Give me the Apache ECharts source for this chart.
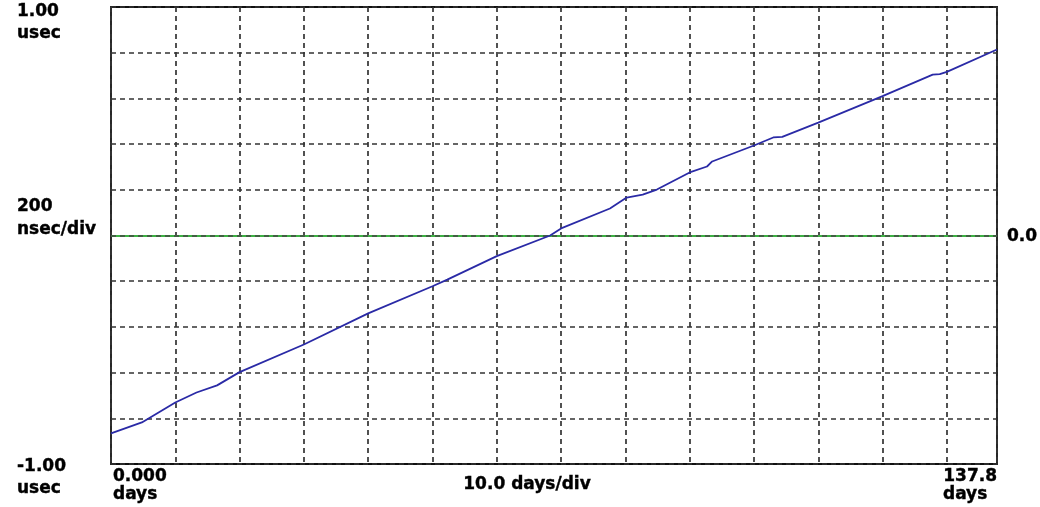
<!DOCTYPE html>
<html>
<head>
<meta charset="utf-8">
<script src="https://cdn.jsdelivr.net/npm/echarts@6/dist/echarts.min.js"></script>
<style>
html,body{margin:0;padding:0;background:#fff;}
#chart{width:1040px;height:507px;}
</style>
</head>
<body>
<div id="chart"></div>
<script>
// Data (days, nsec)
const days = [0, 4.8, 10, 13.3, 16.5, 20, 30, 40, 50, 52.3, 60, 68.3, 70, 77.6, 80.2, 82.7, 84.9, 90, 92.7, 93.5, 100, 103.0, 104.4, 110, 120, 127.8, 128.9, 130, 137.8];
const offsetNs = [-866, -818, -731, -687, -656, -598, -477, -341, -222, -193, -90, 0, 31, 118, 166, 179, 201, 276, 302, 324, 394, 429, 432, 494, 610, 704, 706, 716, 814];
const yTopLabel = ['1.00', 'usec'];
const yMidLabel = ['200', 'nsec/div'];
const yBottomLabel = ['-1.00', 'usec'];
const xLeftLabel = ['0.000', 'days'];
const xRightLabel = ['137.8', 'days'];
const xMidLabel = '10.0 days/div';
const zeroLabel = '0.0';

const seriesData = days.map((d, i) => [d, offsetNs[i]]);

const chart = echarts.init(document.getElementById('chart'), null, {renderer: 'canvas'});
const font = '"DejaVu Sans", sans-serif';
function txt(x, y, s, align) {
  return {type: 'text', x: x, y: y, silent: true,
    style: {text: s, fill: '#000', font: 'bold 17px ' + font, textAlign: align || 'left', textVerticalAlign: 'top',
      stroke: '#000', lineWidth: 0.4}};
}
const dash = {color: '#333', width: 1.7, type: [5, 4]};
chart.setOption({
  animation: false,
  backgroundColor: '#fff',
  grid: {left: 111, right: 43, top: 7, bottom: 43, show: true, borderColor: '#111', borderWidth: 1.8, backgroundColor: 'transparent'},
  xAxis: {type: 'value', min: 0, max: 137.8, interval: 10,
    axisLine: {show: false}, axisTick: {show: false}, axisLabel: {show: false},
    splitLine: {show: true, lineStyle: dash}},
  yAxis: {type: 'value', min: -1000, max: 1000, interval: 200,
    axisLine: {show: false}, axisTick: {show: false}, axisLabel: {show: false},
    splitLine: {show: true, lineStyle: dash}},
  series: [{
    type: 'line', data: seriesData, showSymbol: false, symbol: 'none',
    lineStyle: {color: '#2a2aa6', width: 1.8}, z: 5,
    markLine: {silent: true, symbol: 'none', label: {show: false},
      data: [
        {yAxis: 0, lineStyle: {color: '#3cb043', width: 1.8, type: 'solid'}},
        {yAxis: 0, lineStyle: {color: '#444', width: 1.7, type: [5, 4]}}
      ]}
  }],
  graphic: [
    txt(17, 3, yTopLabel[0]), txt(17, 25, yTopLabel[1]),
    txt(17, 198, yMidLabel[0]), txt(17, 221, yMidLabel[1]),
    txt(17, 458, yBottomLabel[0]), txt(17, 480, yBottomLabel[1]),
    txt(113, 468, xLeftLabel[0]), txt(113, 486, xLeftLabel[1]),
    txt(997, 468, xRightLabel[0], 'right'), txt(943, 486, xRightLabel[1]),
    txt(527, 476, xMidLabel, 'center'),
    txt(1007, 228, zeroLabel)
  ]
});
</script>
</body>
</html>
